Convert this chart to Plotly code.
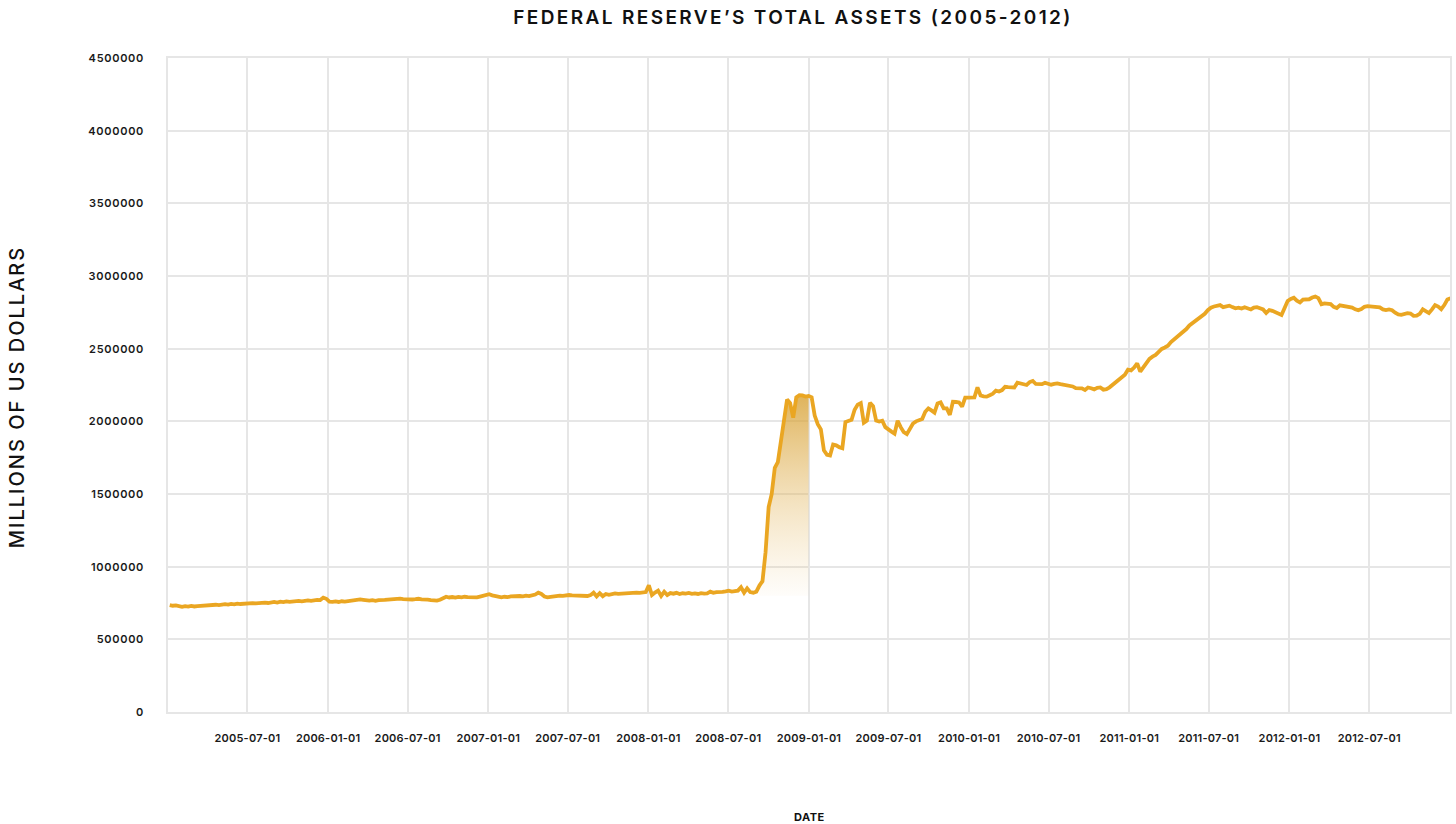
import pandas as pd
import plotly.graph_objects as go

# Weekly total assets (millions of US dollars)
ASSETS_2005 = [736000, 731000, 733000, 727000, 724000, 728000, 725000, 730000, 726000, 729000,
               731000, 733000, 735000, 732000, 736000, 738000, 735000, 740000, 742000, 739000,
               744000, 741000, 746000, 743000, 745000, 748000, 744000, 749000, 747000, 750000,
               748000, 752000, 750000, 754000, 757000, 753000, 759000, 756000, 761000, 758000,
               762000, 760000, 764000, 761000, 766000, 768000, 765000, 770000, 772000, 770000,
               787000, 779000]
ASSETS_2006 = [760000, 758000, 761000, 757000, 762000, 760000, 764000, 762000, 767000, 771000,
               775000, 772000, 768000, 766000, 769000, 765000, 770000, 768000, 771000, 773000,
               776000, 779000, 782000, 780000, 777000, 775000, 778000, 774000, 776000, 779000,
               775000, 777000, 773000, 770000, 767000, 766000, 772000, 780000, 793000, 788000,
               791000, 787000, 792000, 789000, 793000, 790000, 788000, 791000, 789000, 794000,
               798000, 805000]
ASSETS_2007 = [810000, 803000, 797000, 791000, 789000, 793000, 790000, 795000, 797000, 794000,
               798000, 796000, 800000, 797000, 801000, 808000, 821000, 812000, 795000, 789000,
               792000, 796000, 798000, 801000, 799000, 803000, 805000, 802000, 800000, 798000,
               801000, 799000, 798000, 804000, 821000, 796000, 818000, 797000, 812000, 806000,
               810000, 816000, 813000, 815000, 818000, 820000, 817000, 819000, 822000, 820000,
               823000, 825000]
ASSETS_2008 = [872000, 805000, 822000, 835000, 798000, 828000, 805000, 818000, 814000, 820000,
               812000, 817000, 815000, 819000, 813000, 816000, 812000, 818000, 815000, 816000,
               828000, 820000, 825000, 823000, 826000, 830000, 835000, 829000, 833000, 835000,
               858000, 821000, 851000, 825000, 821000, 828000, 870000, 900000, 1100000, 1410000,
               1500000, 1680000, 1720000, 1860000, 1990000, 2150000, 2125000, 2025000, 2165000, 2180000,
               2178000, 2170000, 2175000]
ASSETS_2009 = [2165000, 2040000, 1980000, 1945000, 1800000, 1770000, 1765000, 1840000, 1835000, 1822000,
               1815000, 1995000, 2000000, 2010000, 2080000, 2115000, 2125000, 1990000, 2005000, 2128000,
               2105000, 2005000, 1998000, 2004000, 1960000, 1940000, 1929000, 1915000, 2004000, 1960000,
               1925000, 1912000, 1950000, 1985000, 2000000, 2008000, 2016000, 2066000, 2089000, 2075000,
               2060000, 2123000, 2131000, 2089000, 2089000, 2044000, 2135000, 2133000, 2130000, 2101000,
               2163000, 2163000]
ASSETS_2010 = [2163000, 2165000, 2234000, 2178000, 2172000, 2170000, 2180000, 2190000, 2211000, 2205000,
               2215000, 2238000, 2236000, 2234000, 2233000, 2266000, 2262000, 2258000, 2250000, 2270000,
               2278000, 2257000, 2258000, 2256000, 2266000, 2260000, 2252000, 2257000, 2261000, 2256000,
               2252000, 2251000, 2250000, 2240000, 2228000, 2226000, 2227000, 2216000, 2233000, 2228000,
               2220000, 2231000, 2233000, 2218000, 2222000, 2234000, 2250000, 2266000, 2290000, 2300000,
               2320000, 2355000]
ASSETS_2011 = [2350000, 2370000, 2399000, 2342000, 2375000, 2400000, 2430000, 2445000, 2457000, 2478000,
               2498000, 2508000, 2520000, 2545000, 2563000, 2580000, 2598000, 2615000, 2635000, 2660000,
               2675000, 2688000, 2703000, 2720000, 2740000, 2765000, 2782000, 2790000, 2796000, 2800000,
               2786000, 2790000, 2796000, 2786000, 2778000, 2782000, 2776000, 2785000, 2779000, 2770000,
               2783000, 2786000, 2778000, 2770000, 2745000, 2766000, 2760000, 2750000, 2740000, 2732000,
               2780000, 2828000]
ASSETS_2012 = [2842000, 2850000, 2830000, 2818000, 2838000, 2842000, 2840000, 2852000, 2858000, 2848000,
               2806000, 2812000, 2810000, 2807000, 2788000, 2780000, 2798000, 2795000, 2789000, 2787000,
               2783000, 2771000, 2765000, 2772000, 2788000, 2792000, 2790000, 2786000, 2785000, 2784000,
               2770000, 2766000, 2770000, 2765000, 2748000, 2736000, 2733000, 2742000, 2744000, 2742000,
               2726000, 2727000, 2740000, 2771000, 2758000, 2745000, 2770000, 2800000, 2790000, 2772000,
               2800000, 2838000, 2846000]

FIRST_WEEK = "2005-01-05"
X_TICKS = ["2005-07-01", "2006-01-01", "2006-07-01", "2007-01-01", "2007-07-01",
           "2008-01-01", "2008-07-01", "2009-01-01", "2009-07-01", "2010-01-01",
           "2010-07-01", "2011-01-01", "2011-07-01", "2012-01-01", "2012-07-01"]
Y_TICKS = [0, 500000, 1000000, 1500000, 2000000, 2500000, 3000000, 3500000, 4000000, 4500000]
X_RANGE = ["2005-01-01", "2013-01-01"]
SHADE_START = "2008-09-10"
SHADE_END = "2008-12-31"
SHADE_BASE = 800000

TITLE = "FEDERAL RESERVE\u2019S TOTAL ASSETS (2005-2012)"
Y_TITLE = "MILLIONS OF US DOLLARS"
X_TITLE = "DATE"

values = (ASSETS_2005 + ASSETS_2006 + ASSETS_2007 + ASSETS_2008 +
          ASSETS_2009 + ASSETS_2010 + ASSETS_2011 + ASSETS_2012)
dates = pd.date_range(FIRST_WEEK, periods=len(values), freq="7D")
df = pd.DataFrame({"date": dates, "assets": values})

win = df[(df["date"] >= SHADE_START) & (df["date"] <= SHADE_END)]
shade_x = list(win["date"]) + list(win["date"][::-1])
shade_y = list(win["assets"]) + [SHADE_BASE] * len(win)

LINE = "#EAA622"
FONT = "Inter"


def spaced(text, px):
    return f'<span style="letter-spacing:{px}px">{text}</span>'


fig = go.Figure()
fig.add_trace(go.Scatter(
    x=shade_x, y=shade_y, mode="lines", fill="toself",
    line=dict(width=0, color="rgba(0,0,0,0)"),
    fillgradient=dict(type="vertical",
                      colorscale=[[0, "rgba(236,200,130,0.04)"], [1, "rgba(214,158,45,0.78)"]],
                      start=SHADE_BASE, stop=2180000),
    hoverinfo="skip", showlegend=False))
fig.add_trace(go.Scatter(
    x=df["date"], y=df["assets"], mode="lines",
    line=dict(color=LINE, width=3.8), showlegend=False))

GRID = "#e6e6e6"
tick_font = dict(family=FONT, size=11, color="#1a1a1a", weight=600)

fig.update_layout(
    width=1456, height=824,
    margin=dict(l=168, r=4, t=58, b=112),
    paper_bgcolor="white", plot_bgcolor="white",
    title=dict(text=spaced(TITLE, 2.4),
               font=dict(family=FONT, size=19, color="#111111", weight=600),
               x=793 / 1456, xref="container", xanchor="center",
               y=1 - 17 / 824, yref="container", yanchor="middle"),
    xaxis=dict(type="date", range=X_RANGE, tickvals=X_TICKS,
               ticktext=[spaced(t, 0.2) for t in X_TICKS],
               showgrid=True, gridcolor=GRID, gridwidth=1.5,
               showline=True, linecolor=GRID, linewidth=1.5, mirror=True,
               ticks="", tickfont=tick_font, ticklabelstandoff=15, zeroline=False),
    yaxis=dict(range=[0, 4500000], tickvals=Y_TICKS,
               ticktext=[spaced(str(v), 0.7) for v in Y_TICKS],
               showgrid=True, gridcolor=GRID, gridwidth=1.5,
               showline=True, linecolor=GRID, linewidth=1.5, mirror=True,
               ticks="", tickfont=tick_font, ticklabelstandoff=20, zeroline=False),
    annotations=[
        dict(text=spaced(Y_TITLE, 2.0), textangle=-90, showarrow=False,
             xref="paper", yref="paper", x=(17 - 168) / 1284, y=(712 - 397) / 654,
             xanchor="center", yanchor="middle",
             font=dict(family=FONT, size=20, color="#111111", weight=500)),
        dict(text=spaced(X_TITLE, 0.5), showarrow=False,
             xref="paper", yref="paper", x=0.5, y=(712 - 817) / 654,
             xanchor="center", yanchor="middle",
             font=dict(family=FONT, size=11, color="#111111", weight=700)),
    ],
)

fig.write_html("out.html", config={"displayModeBar": False},
               post_script="document.body.style.margin='0';")
